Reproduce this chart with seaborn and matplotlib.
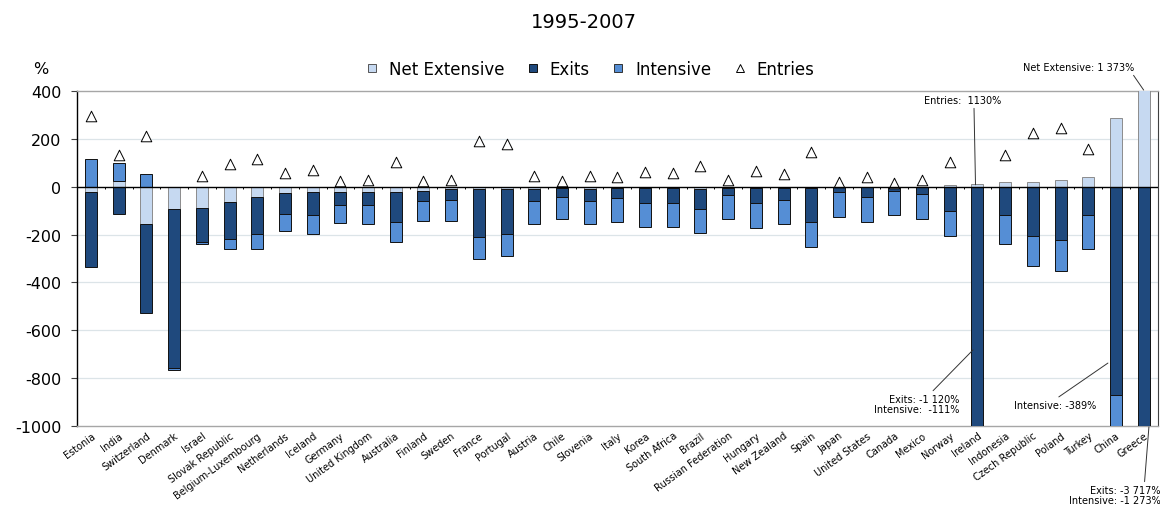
import numpy as np
import pandas as pd
import matplotlib
matplotlib.use("Agg")
import matplotlib.pyplot as plt
import matplotlib.transforms as mtransforms
from matplotlib.lines import Line2D
import seaborn as sns

countries = ["Estonia", "India", "Switzerland", "Denmark", "Israel", "Slovak Republic",
             "Belgium-Luxembourg", "Netherlands", "Iceland", "Germany", "United Kingdom",
             "Australia", "Finland", "Sweden", "France", "Portugal", "Austria", "Chile",
             "Slovenia", "Italy", "Korea", "South Africa", "Brazil", "Russian Federation",
             "Hungary", "New Zealand", "Spain", "Japan", "United States", "Canada", "Mexico",
             "Norway", "Ireland", "Indonesia", "Czech Republic", "Poland", "Turkey", "China",
             "Greece"]

net_extensive = [-20, 25, -154, -95, -91, -62, -41, -28, -24, -24, -22, -21, -17, -10,
                 -10, -10, -8, -6, -8, -6, -6, -6, -8, -6, -6, -4, -4, -3, -2, -2, -2,
                 8, 10, 18, 21, 29, 39, 287, 1373]
exits = [-316, -112, -374, -664, -140, -156, -156, -85, -96, -52, -54, -126, -44, -46,
         -201, -186, -50, -36, -52, -43, -64, -61, -87, -30, -64, -52, -143, -21, -40,
         -15, -27, -101, -1120, -119, -206, -221, -120, -870, -3717]
intensive = [116, 73, 52, -8, -10, -41, -62, -74, -77, -75, -80, -83, -84, -89, -91, -94,
             -97, -94, -95, -98, -99, -100, -97, -100, -101, -101, -104, -102, -104, -102,
             -104, -106, -111, -122, -125, -130, -140, -389, -1273]
entries = [295, 133, 211, 569, 46, 95, 115, 56, 70, 24, 29, 102, 25, 29, 193, 179, 43, 24,
           46, 39, 62, 59, 85, 28, 66, 53, 144, 21, 42, 14, 28, 104, 1130, 134, 224, 245,
           157, 1160, 5090]

series_names = ["Net Extensive", "Exits", "Intensive"]
series_colors = ["#C6D9F1", "#1F497D", "#558ED5"]
series_edges = ["#8C8C8C", "#111111", "#111111"]

df = pd.DataFrame({"country": countries, "Net Extensive": net_extensive,
                   "Exits": exits, "Intensive": intensive, "Entries": entries})

sns.set_theme(style="white")
plt.rcParams["font.family"] = ["DejaVu Sans"]
plt.rcParams["text.color"] = "black"
plt.rcParams["xtick.color"] = "black"
plt.rcParams["ytick.color"] = "black"
plt.rcParams["axes.labelcolor"] = "black"

fig = plt.figure(figsize=(11.6, 5.06), dpi=100)
ax = fig.add_axes([77.2 / 1160, 1 - 427 / 506, (1157.5 - 77.2) / 1160, (427 - 92) / 506])

# Excel-style stacking: positives stack up, negatives stack down, in series order
pos_base = np.zeros(len(df))
neg_base = np.zeros(len(df))
for name, col, ec in zip(series_names, series_colors, series_edges):
    vals = df[name].to_numpy(dtype=float)
    base = np.where(vals >= 0, pos_base, neg_base)
    sns.barplot(data=df, x="country", y=name, order=countries, bottom=base,
                color=col, saturation=1, width=0.43, errorbar=None,
                edgecolor=ec, linewidth=0.7, ax=ax, zorder=3)
    pos_base = pos_base + np.where(vals >= 0, vals, 0)
    neg_base = neg_base + np.where(vals < 0, vals, 0)

xpos = np.arange(len(df))
sns.scatterplot(x=xpos, y=df["Entries"], marker="^", s=58, color="white",
                edgecolor="black", linewidth=0.7, ax=ax, zorder=5, legend=False)

ax.set_xlim(-0.5, len(df) - 0.5)
ax.set_ylim(-1000, 400)
ax.set_yticks(np.arange(-1000, 401, 200))
ax.set_yticklabels([str(v) for v in range(-1000, 401, 200)], fontsize=11.5)
for yv in range(-800, 400, 200):
    if yv != 0:
        ax.axhline(yv, color="#DCE4E8", lw=0.9, zorder=1)
ax.axhline(0, color="black", lw=1.0, zorder=6)
ax.vlines(xpos[:-1] + 0.5, -10, 0, color="black", lw=0.7, zorder=6)

ax.set_xticks(xpos)
ax.set_xticklabels(countries, rotation=36, ha="right", rotation_mode="anchor",
                   fontsize=7)
shift = mtransforms.ScaledTranslation(-4 / 100, 0, fig.dpi_scale_trans)
for lab in ax.get_xticklabels():
    lab.set_transform(lab.get_transform() + shift)
ax.tick_params(axis="x", length=0, pad=3)
ax.tick_params(axis="y", length=4.5, width=0.8, color="#404040", pad=7, left=True)
ax.set_xlabel("")
ax.set_ylabel("")

for side in ["top", "bottom"]:
    ax.spines[side].set_color("#A6A6A6")
    ax.spines[side].set_linewidth(1.0)
ax.spines["left"].set_color("black")
ax.spines["left"].set_linewidth(1.0)
ax.spines["right"].set_color("#404040")
ax.spines["right"].set_linewidth(0.8)
ax.set_facecolor("white")

ax.text(-0.034, 1.066, "%", transform=ax.transAxes, fontsize=11.5, ha="center", va="center")
fig.text(584 / 1160, 1 - 23 / 506, "1995-2007", fontsize=14, ha="center", va="center")

handles = [Line2D([], [], ls="none", marker="s", ms=5.5, mfc=c, mec=e, mew=0.7)
           for c, e in zip(series_colors, ["#555555", "#111111", "#333333"])]
handles.append(Line2D([], [], ls="none", marker="^", ms=6, mfc="white", mec="black", mew=0.7))
fig.legend(handles, series_names + ["Entries"], loc="center", ncol=4,
           bbox_to_anchor=(589 / 1160, 1 - 70 / 506), frameon=False, fontsize=12,
           handlelength=1.0, handletextpad=0.52, columnspacing=1.2)

ann = dict(fontsize=7, annotation_clip=False, textcoords="data")
line = dict(arrowstyle="-", color="#333333", lw=0.7, shrinkA=0, shrinkB=0)
i_ir = countries.index("Ireland")
i_cn = countries.index("China")
i_gr = countries.index("Greece")
ax.annotate(f"Net Extensive: 1 373%", xy=(i_gr, 404), xytext=(37.65, 500),
            ha="right", va="center",
            arrowprops={**line, "relpos": (0.97, 0.1)}, **ann)
ax.annotate("Entries:  1130%", xy=(i_ir - 0.07, 8), xytext=(32.85, 362),
            ha="right", va="center",
            arrowprops={**line, "relpos": (0.65, 0.0)}, **ann)
ax.annotate("Exits: -1 120%\nIntensive:  -111%", xy=(i_ir - 0.16, -682),
            xytext=(31.33, -908), ha="right", va="center", linespacing=1.0,
            arrowprops={**line, "relpos": (0.66, 1.0)}, **ann)
ax.annotate("Intensive: -389%", xy=(i_cn - 0.29, -737), xytext=(36.28, -913),
            ha="right", va="center",
            arrowprops={**line, "relpos": (0.49, 1.0)}, **ann)
ax.annotate("Exits: -3 717%\nIntensive: -1 273%", xy=(i_gr + 0.19, -1004),
            xytext=(38.62, -1288), ha="right", va="center", linespacing=1.0,
            arrowprops={**line, "relpos": (0.82, 1.0)}, **ann)

fig.savefig("out.png", dpi=100)
